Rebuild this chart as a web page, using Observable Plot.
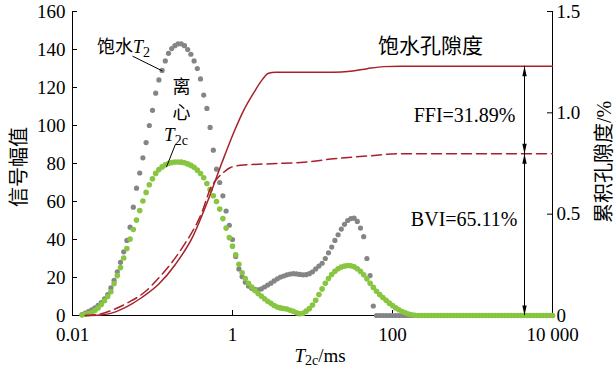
<!DOCTYPE html>
<html><head><meta charset="utf-8">
<script src="https://cdn.jsdelivr.net/npm/d3@7"></script>
<script src="https://cdn.jsdelivr.net/npm/@observablehq/plot@0.6"></script>
<style>
body{margin:0;background:#fff;}
</style>
</head><body><div id="chart"></div>
<script>
// T2 grid: logarithmic, 25 points per decade, first point index 3 above 0.01 ms
const gridStart = 0.01, perDecade = 25, firstIdx = 3;

// Saturated T2 spectrum amplitude (饱水T2)
const saturatedAmp = [
  0.5,1.2,2.0,3.0,4.0,5.3,6.8,8.7,11,14.5,
  18.5,23,28,33.5,39.5,46.5,57,67,75,83,
  91,100,108,117,124,129,134,138,140.5,142,
  143,143,142,140,137.5,134,130,124.5,116,109,
  99,87,77,
  70,63,55,47.5,40,31,24.5,20.5,17.5,15.5,
  14.3,13.7,13.5,14,15,16,17,18.2,19.3,20.2,
  20.8,21.4,21.8,22,21.9,21.6,21.4,21.5,22,23,
  24.5,26,27.5,30,33,36,39.5,42.5,45.5,48,
  50,51,51.2,49.5,46,41.5,30,21,5,0,
  0,0,0,0,0,0,0,0,0,0,
  0,0,0,0,0,0,0,0,0,0,
  0,0,0,0,0,0,0,0,0,0,
  0,0,0,0,0,0,0,0,0,0,
  0,0,0,0,0,0,0,0,0,0,
  0,0,0,0,0
];

// Centrifuged T2c spectrum amplitude (离心T2c)
const centrifugedAmp = [
  0.3,0.6,1.0,1.6,2.6,4.0,5.8,7.8,10,12.5,
  16.8,21,25.2,30.3,35.2,40.2,45.3,50.2,55.2,60.3,
  64.8,68.8,72,74.8,76.8,78.2,79.3,80,80.5,80.8,
  80.8,80.7,80.4,79.8,79,78,76.5,74.7,72.5,69.5,
  66.3,63,60,
  56,51,46,41,36.5,32,27,22.5,19.5,17,
  15,13.2,11.6,10.2,8.8,7.5,6.4,5.3,4.5,4,
  3.7,3.4,2.8,2.2,1.4,0.9,1.2,2.3,3.6,5.5,
  8,11,14,17,19.5,21.6,23.3,24.6,25.5,26,
  26.3,26.2,25.6,24.6,23.2,21.4,19.3,17,14.8,12.8,
  11,9.5,8,6.5,5.2,4,3,2.1,1.4,0.8,
  0.4,0.1,
  0,0,0,0,0,0,0,0,0,0,
  0,0,0,0,0,0,0,0,0,0,
  0,0,0,0,0,0,0,0,0,0,
  0,0,0,0,0,0,0,0,0,0,
  0,0,0
];

// Cumulative porosity (%), saturated (solid)
const satCumT2 = [0.0145,0.0224,0.0284,0.046,0.0743,0.12,0.194,0.313,0.505,0.743,1.04,1.37,1.85,2.37,2.82,3.45,18.3,29.9,48.3,77.2,126,10000];
const satCumVal = [0,0.003,0.008,0.04,0.09,0.155,0.253,0.383,0.578,0.757,0.904,1.01,1.10,1.165,1.195,1.20,1.20,1.205,1.218,1.228,1.23,1.23];

// Cumulative porosity (%), centrifuged (dashed)
const cenCumT2 = [0.0145,0.0224,0.0345,0.0501,0.0743,0.132,0.235,0.418,0.531,0.644,0.743,0.944,1.26,2.71,7.08,18.5,48.3,126,10000];
const cenCumVal = [0,0.008,0.033,0.065,0.106,0.204,0.334,0.513,0.627,0.676,0.70,0.73,0.741,0.748,0.755,0.773,0.787,0.798,0.798];

// Axes
const leftTicks = [0,20,40,60,80,100,120,140,160];
const rightTicks = [0,0.5,1.0,1.5];
const rightTickLabels = ["0","0.5","1.0","1.5"];
const xTicks = [0.01,1,100,10000];
const xTickLabels = ["0.01","1","100","10 000"];

// Totals for the FFI / BVI arrows
const totalPorosity = 1.23, bviPorosity = 0.798, arrowT2 = 4467;

const k = 160 / 1.5; // right axis -> left axis units
const t2At = j => gridStart * Math.pow(10, (firstIdx + j) / perDecade);
const satDots = saturatedAmp.map((v, j) => ({t: t2At(j), v}));
const cenDots = centrifugedAmp.map((v, j) => ({t: t2At(j), v}));
const satCum = satCumT2.map((t, i) => ({t, v: satCumVal[i] * k}));
const cenCum = cenCumT2.map((t, i) => ({t, v: cenCumVal[i] * k}));

const W = 615, H = 370, mL = 72, mR = 63, mT = 11, mB = 55;
const fw = W - mL - mR, fh = H - mT - mB;
const red = "#a8202a";
const font = '"Liberation Serif", "Noto Sans CJK SC", serif';

const heads = [
  {v: totalPorosity * k, r: 0},
  {v: bviPorosity * k, r: 180},
  {v: bviPorosity * k, r: 0},
  {v: 0, r: 180}
];

const chart = Plot.plot({
  width: W, height: H,
  marginLeft: mL, marginRight: mR, marginTop: mT, marginBottom: mB,
  style: {fontFamily: font, fontSize: "19px", background: "white", color: "black"},
  x: {type: "log", domain: [0.01, 10000]},
  y: {domain: [0, 160]},
  marks: [
    Plot.ruleX([0.01, 10000], {stroke: "black", strokeWidth: 1}),
    Plot.ruleY([0], {stroke: "black", strokeWidth: 1}),
    Plot.tickY(leftTicks, {y: d => d, insetRight: fw - 5, stroke: "black"}),
    Plot.tickY(rightTicks.map(d => d * k), {y: d => d, insetLeft: fw - 5, stroke: "black"}),
    Plot.tickX(xTicks, {x: d => d, insetTop: fh - 5, stroke: "black"}),
    Plot.axisY(leftTicks, {anchor: "left", tickSize: 0, tickPadding: 7, label: null}),
    Plot.axisY(rightTicks.map(d => d * k), {anchor: "right", tickSize: 0, tickPadding: 4, label: null,
      tickFormat: d => rightTickLabels[rightTicks.findIndex(r => Math.abs(r * k - d) < 1e-6)]}),
    Plot.axisX(xTicks, {anchor: "bottom", tickSize: 0, tickPadding: 12, label: null,
      tickFormat: d => xTickLabels[xTicks.indexOf(d)]}),
    Plot.dot(satDots, {x: "t", y: "v", r: 2.6, fill: "#858585", stroke: null}),
    Plot.dot(cenDots, {x: "t", y: "v", r: 2.8, fill: "#88c540", stroke: null}),
    Plot.line(satCum, {x: "t", y: "v", stroke: red, strokeWidth: 1.5, curve: "monotone-x"}),
    Plot.line(cenCum, {x: "t", y: "v", stroke: red, strokeWidth: 1.5, strokeDasharray: "10,5", curve: "monotone-x"}),
    Plot.ruleX([arrowT2], {y1: 0, y2: totalPorosity * k, stroke: "black", strokeWidth: 1}),
    Plot.vector(heads, {x: () => arrowT2, y: "v", rotate: "r", length: 10, r: 2.2, shape: "spike", anchor: "end", fill: "black", stroke: "none"}),
    Plot.link([0], {x1: () => 0.0562, y1: () => 136.5, x2: () => 0.1334, y2: () => 128.7, stroke: "black", strokeWidth: 1}),
    Plot.link([0], {x1: () => 0.194, y1: () => 90.2, x2: () => 0.1496, y2: () => 78.2, stroke: "black", strokeWidth: 1}),
    Plot.text(["饱水孔隙度"], {x: () => 298, y: () => 141.5, fontSize: 21, textAnchor: "middle"}),
    Plot.text(["FFI=31.89%"], {x: () => 3447, y: () => 105, fontSize: 20, textAnchor: "end"}),
    Plot.text(["BVI=65.11%"], {x: () => 3651, y: () => 50.5, fontSize: 20, textAnchor: "end"}),
    Plot.text(["离"], {x: () => 0.2304, y: () => 120, fontSize: 18}),
    Plot.text(["心"], {x: () => 0.2304, y: () => 106.3, fontSize: 18})
  ]
});

document.getElementById("chart").appendChild(chart);

// Rich-text labels (italic T with subscripts), placed with the chart's scales
const sx = chart.scale("x"), sy = chart.scale("y");
const svg = d3.select(chart);
const g = svg.append("g").attr("font-family", font).attr("fill", "black");

function rich(x, y, parts, size, anchor) {
  const t = g.append("text").attr("x", x).attr("y", y).attr("font-size", size).attr("text-anchor", anchor || "start");
  parts.forEach(p => {
    const s = t.append("tspan").text(p.s);
    if (p.i) s.attr("font-style", "italic");
    if (p.dy) s.attr("dy", p.dy);
    if (p.fs) s.attr("font-size", p.fs);
  });
  return t;
}

rich(sx.apply(0.0205), sy.apply(138.1), [{s: "饱水"}, {s: "T", i: true}, {s: "2", dy: 4, fs: 14}], 18);
rich(sx.apply(0.1995), sy.apply(91.7), [{s: "T", i: true}, {s: "2c", dy: 4, fs: 14}], 19, "middle");
rich(mL + fw / 2 + 8, H - 8, [{s: "T", i: true}, {s: "2c", dy: 3, fs: 14}, {s: "/ms", dy: -3}], 19, "middle");

g.append("text").attr("transform", "translate(19,167) rotate(-90)").attr("text-anchor", "middle")
  .attr("dy", "0.35em").attr("font-size", 20).text("信号幅值");
g.append("text").attr("transform", "translate(604,162) rotate(-90)").attr("text-anchor", "middle")
  .attr("dy", "0.35em").attr("font-size", 20).text("累积孔隙度/%");
</script>
</body></html>
